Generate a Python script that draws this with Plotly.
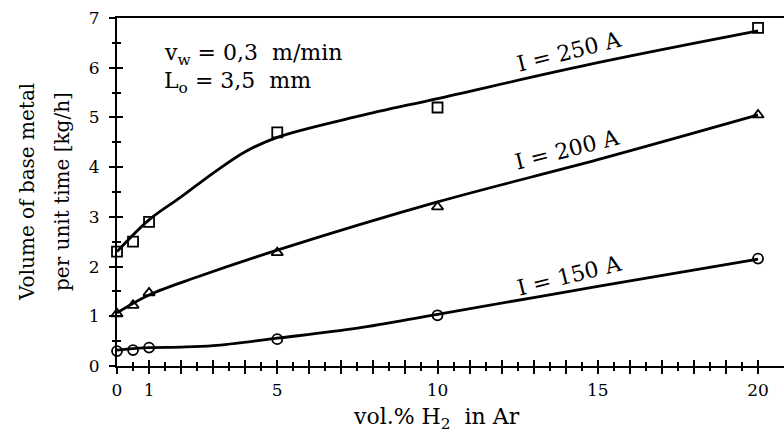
import plotly.graph_objects as go

# measured points
h2_percent = [0, 0.5, 1, 5, 10, 20]
vol_250A = [2.3, 2.5, 2.9, 4.7, 5.2, 6.8]
vol_200A = [1.05, 1.22, 1.47, 2.28, 3.2, 5.05]
vol_150A = [0.3, 0.32, 0.37, 0.54, 1.02, 2.16]

# fitted curves
fit_250_x = [0, 1, 2, 3, 4, 5, 7.5, 10, 15, 20]
fit_250_y = [2.3, 2.94, 3.4, 3.88, 4.31, 4.6, 5.02, 5.38, 6.1, 6.74]
fit_200_x = [0, 1, 2.5, 5, 10, 15, 20]
fit_200_y = [1.07, 1.43, 1.79, 2.33, 3.3, 4.15, 5.05]
fit_150_x = [0, 1, 2, 3, 5, 7.5, 10, 15, 20]
fit_150_y = [0.32, 0.37, 0.38, 0.41, 0.56, 0.76, 1.04, 1.6, 2.15]

series = [
    ("I = 250 A", vol_250A, fit_250_x, fit_250_y, "square-open", 14.13, 6.32, ("x", "y")),
    ("I = 200 A", vol_200A, fit_200_x, fit_200_y, "triangle-up-open", 14.07, 4.35, ("x3", "y3")),
    ("I = 150 A", vol_150A, fit_150_x, fit_150_y, "circle-open", 14.13, 1.83, ("x4", "y4")),
]

x_tick_vals = list(range(0, 21))
x_tick_labels = {0: "0", 1: "1", 5: "5", 10: "10", 15: "15", 20: "20"}
y_tick_vals = list(range(0, 8))
x_half_ticks = [v + 0.5 for v in x_tick_vals[:-1]]
y_half_ticks = [v + 0.5 for v in y_tick_vals[:-1]]

FONT = "DejaVu Serif"
fig = go.Figure()

for name, vals, fx, fy, sym, lx, ly, (xa, ya) in series:
    fig.add_trace(go.Scatter(
        x=fx, y=fy, mode="lines", xaxis=xa, yaxis=ya,
        line=dict(color="black", width=2.8, shape="spline", smoothing=1.0),
        showlegend=False, cliponaxis=False, hoverinfo="skip"))
    fig.add_trace(go.Scatter(
        x=h2_percent, y=vals, mode="markers", xaxis="x2", yaxis="y2",
        marker=dict(symbol=sym, size=10, color="black", line=dict(width=1.8, color="black")),
        showlegend=False, cliponaxis=False, name=name))
    fig.add_annotation(x=lx, y=ly, text=name, showarrow=False, textangle=-14,
                       font=dict(family=FONT, size=22, color="black"))

xr = [0, 20.81]
yr = [0, 7]
common_x = dict(range=xr, showgrid=False, zeroline=False, automargin=False)
common_y = dict(range=yr, showgrid=False, zeroline=False, automargin=False)


def overlay_x(anchor, vals, side_ticks, length, width):
    return dict(**common_x, overlaying="x", anchor=anchor, side="bottom",
                showline=False, showticklabels=False,
                tickmode="array", tickvals=vals,
                ticks=side_ticks, ticklen=length, tickwidth=width, tickcolor="black")


def overlay_y(anchor, vals, side_ticks, length, width):
    return dict(**common_y, overlaying="y", anchor=anchor, side="left",
                showline=False, showticklabels=False,
                tickmode="array", tickvals=vals,
                ticks=side_ticks, ticklen=length, tickwidth=width, tickcolor="black")


fig.update_layout(
    width=784, height=432,
    margin=dict(l=117, r=0, t=18, b=66),
    paper_bgcolor="white", plot_bgcolor="white",
    font=dict(family=FONT, size=17, color="black"),
    xaxis=dict(**common_x, showline=True, linecolor="black", linewidth=2, mirror=True,
               tickmode="array", tickvals=x_tick_vals,
               ticktext=[x_tick_labels.get(v, "") for v in x_tick_vals],
               ticks="outside", ticklen=6, tickwidth=2, tickcolor="black",
               ticklabelstandoff=2,
               tickfont=dict(family=FONT, size=17, color="black")),
    yaxis=dict(**common_y, showline=True, linecolor="black", linewidth=2, mirror=False,
               tickmode="array", tickvals=y_tick_vals,
               ticks="outside", ticklen=6, tickwidth=2, tickcolor="black",
               ticklabelstandoff=6,
               tickfont=dict(family=FONT, size=17, color="black")),
    xaxis2=overlay_x("y2", x_tick_vals, "inside", 6, 2),
    yaxis2=overlay_y("x2", y_tick_vals, "inside", 6, 2),
    xaxis3=overlay_x("y3", x_half_ticks, "outside", 4, 1.6),
    yaxis3=overlay_y("x3", y_half_ticks, "outside", 4, 1.6),
    xaxis4=overlay_x("y4", x_half_ticks, "inside", 4, 1.6),
    yaxis4=overlay_y("x4", y_half_ticks, "inside", 4, 1.6),
)

fig.add_annotation(xref="paper", yref="paper", x=0, y=0.5, xshift=-90, xanchor="center",
                   yanchor="middle", textangle=-90,
                   text="Volume of base metal", showarrow=False,
                   font=dict(family=FONT, size=20, color="black"))
fig.add_annotation(xref="paper", yref="paper", x=0, y=0.5, xshift=-55, xanchor="center",
                   yanchor="middle", textangle=-90,
                   text="per unit time [kg/h]", showarrow=False,
                   font=dict(family=FONT, size=20, color="black"))
fig.add_annotation(xref="paper", yref="paper", x=0.479, y=0, yshift=-52, yanchor="middle",
                   text="vol.% H<sub>2</sub>&nbsp; in Ar", showarrow=False,
                   font=dict(family=FONT, size=22, color="black"))
fig.add_annotation(x=1.41, y=6.27, xanchor="left", text="v<sub>w</sub> = 0,3&nbsp; m/min",
                   showarrow=False, font=dict(family=FONT, size=22, color="black"))
fig.add_annotation(x=1.41, y=5.71, xanchor="left", text="L<sub>o</sub> = 3,5&nbsp; mm",
                   showarrow=False, font=dict(family=FONT, size=22, color="black"))

fig.write_html("out.html", config={"displayModeBar": False},
               post_script="document.body.style.margin='0px';")
